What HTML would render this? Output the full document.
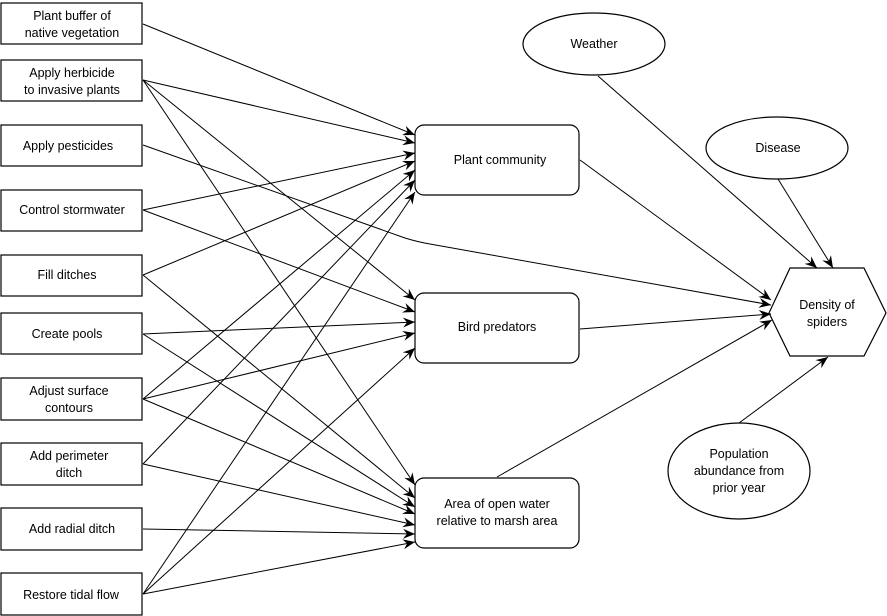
<!DOCTYPE html>
<html><head><meta charset="utf-8"><style>
html,body{margin:0;padding:0;background:#fff}
svg{display:block}
text{font-family:"Liberation Sans",sans-serif;font-size:12.5px;fill:#000;text-anchor:middle}
</style></head><body>
<svg width="887" height="616" viewBox="0 0 887 616" xmlns="http://www.w3.org/2000/svg">
<defs>
<marker id="a" viewBox="0 0 12 10" refX="12" refY="5" markerWidth="12" markerHeight="10" markerUnits="userSpaceOnUse" orient="auto">
<path d="M0,0 L12,5 L0,10 L4,5 Z" fill="#000"/>
</marker>
</defs>
<g fill="#fff" stroke="#000" stroke-width="1.2">
<rect x="1" y="3" width="141" height="41"/>
<rect x="1" y="60" width="141" height="41"/>
<rect x="1" y="125" width="141" height="41"/>
<rect x="1" y="190" width="141" height="41"/>
<rect x="1" y="255" width="141" height="41"/>
<rect x="1" y="313" width="141" height="41"/>
<rect x="1" y="378" width="141" height="42"/>
<rect x="1" y="443" width="141" height="42"/>
<rect x="1" y="508" width="141" height="42"/>
<rect x="1" y="573" width="141" height="42"/>
<rect x="415" y="125" width="164" height="70" rx="9"/>
<rect x="415" y="293" width="164" height="70" rx="9"/>
<rect x="415" y="478" width="164" height="70" rx="9"/>
<ellipse cx="594" cy="44" rx="71" ry="31"/>
<ellipse cx="777" cy="148" rx="71" ry="31"/>
<ellipse cx="739" cy="471" rx="71" ry="48"/>
<polygon points="769,313 790,268 864,268 886,313 864,356 790,356"/>
</g>
<g stroke="#000" stroke-width="1" fill="none" marker-end="url(#a)">
<!-- to plant community -->
<line x1="143" y1="24" x2="415" y2="135"/>
<line x1="143" y1="80" x2="415" y2="143"/>
<line x1="143" y1="210" x2="415" y2="153"/>
<line x1="143" y1="275" x2="415" y2="161"/>
<line x1="143" y1="399" x2="415" y2="170"/>
<line x1="143" y1="464" x2="415" y2="180"/>
<line x1="143" y1="594" x2="415" y2="192"/>
<!-- to bird predators -->
<line x1="143" y1="80" x2="415" y2="300"/>
<line x1="143" y1="210" x2="415" y2="312"/>
<line x1="143" y1="334" x2="415" y2="322"/>
<line x1="143" y1="399" x2="415" y2="333"/>
<line x1="143" y1="594" x2="415" y2="348"/>
<!-- to area -->
<line x1="143" y1="80" x2="415" y2="485"/>
<line x1="143" y1="275" x2="415" y2="498"/>
<line x1="143" y1="334" x2="415" y2="507"/>
<line x1="143" y1="399" x2="415" y2="514"/>
<line x1="143" y1="464" x2="415" y2="525"/>
<line x1="143" y1="529" x2="415" y2="534"/>
<line x1="143" y1="594" x2="415" y2="542"/>
<!-- to density -->
<path d="M143,145 L405,238 Q418,242 430,244 L771,305"/>
<line x1="598" y1="76" x2="817" y2="268"/>
<line x1="778" y1="179" x2="833" y2="268"/>
<line x1="580" y1="160" x2="771" y2="300"/>
<line x1="580" y1="329" x2="771" y2="314"/>
<line x1="497" y1="477" x2="772" y2="320"/>
<line x1="739" y1="423" x2="828" y2="357"/>
</g>
<text x="72" y="20">Plant buffer of</text>
<text x="72" y="37">native vegetation</text>
<text x="72" y="77">Apply herbicide</text>
<text x="72" y="94">to invasive plants</text>
<text x="68" y="150">Apply pesticides</text>
<text x="72" y="214">Control stormwater</text>
<text x="67" y="279">Fill ditches</text>
<text x="67" y="338">Create pools</text>
<text x="69" y="395">Adjust surface</text>
<text x="69" y="412">contours</text>
<text x="69" y="460">Add perimeter</text>
<text x="69" y="477">ditch</text>
<text x="72" y="533">Add radial ditch</text>
<text x="71" y="599">Restore tidal flow</text>
<text x="500" y="164">Plant community</text>
<text x="497" y="331">Bird predators</text>
<text x="497" y="508">Area of open water</text>
<text x="497" y="525">relative to marsh area</text>
<text x="594" y="48">Weather</text>
<text x="778" y="152">Disease</text>
<text x="739" y="458">Population</text>
<text x="739" y="475">abundance from</text>
<text x="739" y="492">prior year</text>
<text x="827" y="309">Density of</text>
<text x="827" y="326">spiders</text>
</svg>
</body></html>
